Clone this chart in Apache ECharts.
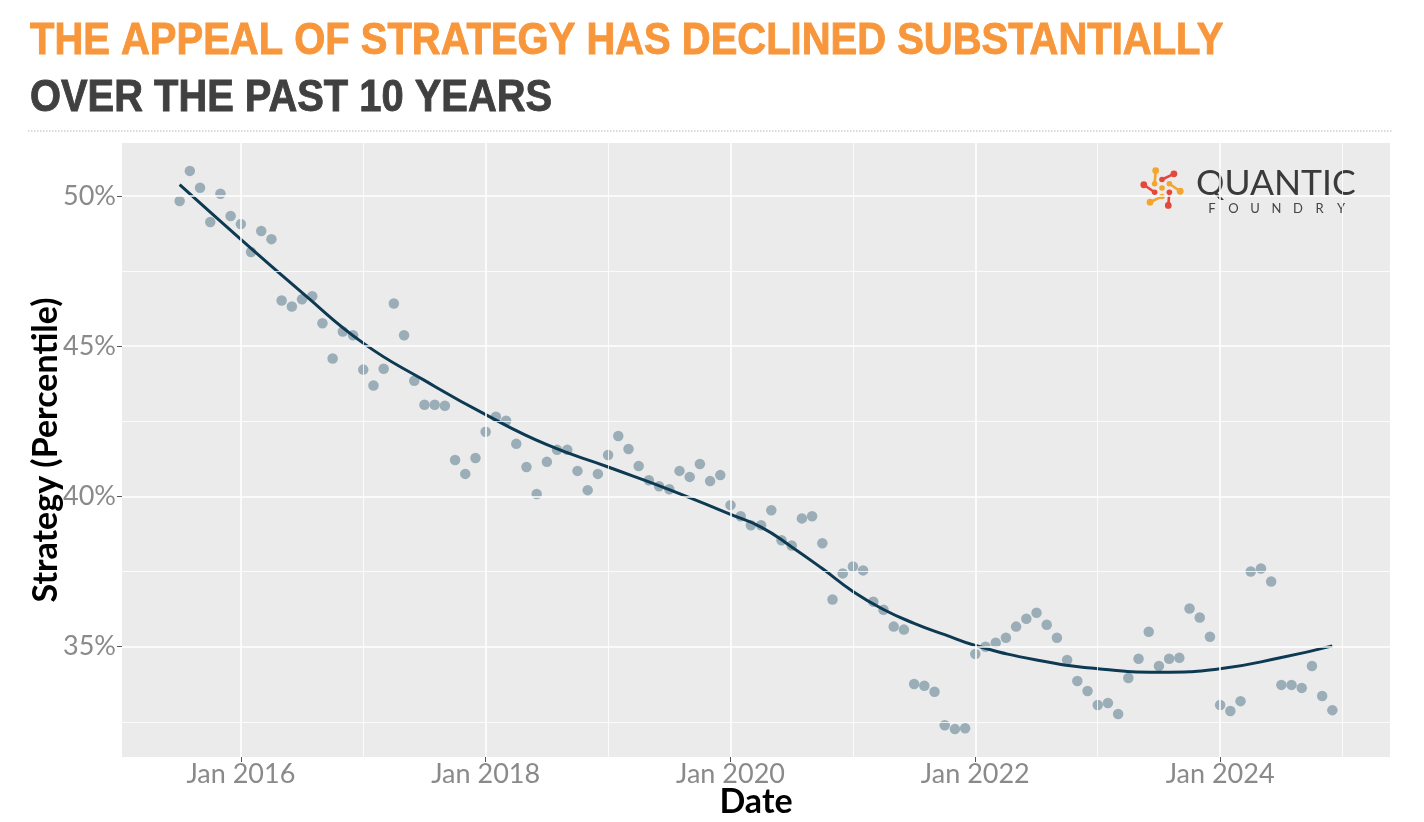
<!DOCTYPE html>
<html>
<head>
<meta charset="utf-8">
<script src="https://cdn.jsdelivr.net/npm/echarts@6/dist/echarts.min.js"></script>
<style>
html,body{margin:0;padding:0;background:#ffffff;}
#chart{width:1424px;height:822px;}
</style>
</head>
<body>
<div id="chart"></div>
<script>
// ---------------- data ----------------
const titleLine1 = 'THE APPEAL OF STRATEGY HAS DECLINED SUBSTANTIALLY';
const titleLine2 = 'OVER THE PAST 10 YEARS';
const xAxisTitle = 'Date';
const yAxisTitle = 'Strategy (Percentile)';

const months = [
  '2015-07','2015-08','2015-09','2015-10','2015-11','2015-12',
  '2016-01','2016-02','2016-03','2016-04','2016-05','2016-06','2016-07','2016-08','2016-09','2016-10','2016-11','2016-12',
  '2017-01','2017-02','2017-03','2017-04','2017-05','2017-06','2017-07','2017-08','2017-09','2017-10','2017-11','2017-12',
  '2018-01','2018-02','2018-03','2018-04','2018-05','2018-06','2018-07','2018-08','2018-09','2018-10','2018-11','2018-12',
  '2019-01','2019-02','2019-03','2019-04','2019-05','2019-06','2019-07','2019-08','2019-09','2019-10','2019-11','2019-12',
  '2020-01','2020-02','2020-03','2020-04','2020-05','2020-06','2020-07','2020-08','2020-09','2020-10','2020-11','2020-12',
  '2021-01','2021-02','2021-03','2021-04','2021-05','2021-06','2021-07','2021-08','2021-09','2021-10','2021-11','2021-12',
  '2022-01','2022-02','2022-03','2022-04','2022-05','2022-06','2022-07','2022-08','2022-09','2022-10','2022-11','2022-12',
  '2023-01','2023-02','2023-03','2023-04','2023-05','2023-06','2023-07','2023-08','2023-09','2023-10','2023-11','2023-12',
  '2024-01','2024-02','2024-03','2024-04','2024-05','2024-06','2024-07','2024-08','2024-09','2024-10','2024-11','2024-12'
];

const strategyValues = [
  49.83, 50.83, 50.27, 49.13, 50.07, 49.33,
  49.06, 48.13, 48.83, 48.56, 46.52, 46.32, 46.56, 46.66, 45.76, 44.59, 45.49, 45.36,
  44.22, 43.69, 44.25, 46.42, 45.36, 43.85, 43.05, 43.05, 43.02, 41.21, 40.75, 41.28,
  42.15, 42.65, 42.52, 41.75, 40.98, 40.08, 41.15, 41.55, 41.55, 40.85, 40.21, 40.75,
  41.38, 42.01, 41.58, 41.01, 40.54, 40.34, 40.24, 40.85, 40.65, 41.08, 40.51, 40.71,
  39.71, 39.34, 39.04, 39.04, 39.54, 38.54, 38.37, 39.27, 39.34, 38.44, 36.57, 37.44,
  37.67, 37.54, 36.50, 36.23, 35.67, 35.57, 33.76, 33.70, 33.50, 32.39, 32.26, 32.29,
  34.76, 35.00, 35.13, 35.30, 35.67, 35.93, 36.13, 35.73, 35.30, 34.56, 33.86, 33.53,
  33.06, 33.13, 32.76, 33.96, 34.60, 35.50, 34.36, 34.60, 34.63, 36.27, 35.97, 35.33,
  33.06, 32.86, 33.19, 37.50, 37.60, 37.17, 33.73, 33.73, 33.63, 34.36, 33.36, 32.89
];

// smooth trend line
const trendMonths = ['2015-07','2016-01','2016-07','2017-01','2017-07','2018-01','2018-07','2019-01','2019-07',
  '2020-01','2020-04','2020-07','2020-10','2021-01','2021-04','2021-07','2021-10','2022-01','2022-07',
  '2023-01','2023-07','2024-01','2024-07','2024-12'];
const trendValues = [50.37, 48.55, 46.78, 45.10, 43.86, 42.72, 41.72, 40.98, 40.23,
  39.40, 38.98, 38.32, 37.60, 36.84, 36.24, 35.78, 35.40, 35.04, 34.56,
  34.27, 34.15, 34.27, 34.64, 35.03];

const xTickYears = [2016, 2018, 2020, 2022, 2024];
const xMinorYears = [2017, 2019, 2021, 2023, 2025];
const yTicks = [35, 40, 45, 50];
const yMinorTicks = [32.5, 37.5, 42.5, 47.5];

// ---------------- helpers ----------------
function toYear(m) {
  const p = m.split('-').map(Number);
  return p[0] + (p[1] - 1) / 12;
}
const xs = months.map(toYear);
const xSpan = xs[xs.length - 1] - xs[0];
const xMin = xs[0] - 0.05 * xSpan;
const xMax = xs[xs.length - 1] + 0.05 * xSpan;
const yLo = Math.min.apply(null, strategyValues);
const yHi = Math.max.apply(null, strategyValues);
const ySpan = yHi - yLo;
const yMin = yLo - 0.05 * ySpan;
const yMax = yHi + 0.05 * ySpan;

const pointData = months.map((m, i) => [toYear(m), strategyValues[i]]);
const trendData = trendMonths.map((m, i) => [toYear(m), trendValues[i]]);

const gridLineData = []
  .concat(xTickYears.map(v => ({ xAxis: v, lineStyle: { color: '#ffffff', width: 1.6, type: 'solid' } })))
  .concat(xMinorYears.map(v => ({ xAxis: v, lineStyle: { color: '#ffffff', width: 0.8, type: 'solid' } })))
  .concat(yTicks.map(v => ({ yAxis: v, lineStyle: { color: '#ffffff', width: 1.6, type: 'solid' } })))
  .concat(yMinorTicks.map(v => ({ yAxis: v, lineStyle: { color: '#ffffff', width: 0.8, type: 'solid' } })));

const titleFont = "bold 44px 'Liberation Sans', Arial, sans-serif";
const axisFont = "Lato, 'Noto Sans', sans-serif";

// logo icon (decoration)
const logoCx = 1162, logoCy = 188;
const logoParts = [];
(function () {
  const cols = ['#E5483B', '#F5A42C'];
  for (let k = 0; k < 6; k++) {
    const a = k * Math.PI / 3 - Math.PI / 2;
    const b = a + 0.7;
    const col = cols[k % 2];
    const ix = logoCx + 8.5 * Math.cos(a), iy = logoCy + 8.5 * Math.sin(a);
    const ox = logoCx + 18.5 * Math.cos(b), oy = logoCy + 18.5 * Math.sin(b);
    logoParts.push({ type: 'line', shape: { x1: ix, y1: iy, x2: ox, y2: oy }, style: { stroke: col, lineWidth: 2.6 } });
    logoParts.push({ type: 'circle', shape: { cx: ox, cy: oy, r: 3.4 }, style: { fill: col } });
    logoParts.push({ type: 'circle', shape: { cx: ix, cy: iy, r: 2.8 }, style: { fill: col } });
  }
  logoParts.push({ type: 'circle', shape: { cx: logoCx, cy: logoCy, r: 2.8 }, style: { fill: '#F5A42C' } });
})();
const foundryLetters = 'FOUNDRY'.split('').map((ch, i) => ({
  type: 'text', x: 1212 + i * 21.5, y: 202,
  style: { text: ch, fill: '#444444', font: "normal 13px Lato, 'Noto Sans', sans-serif", textAlign: 'center', textVerticalAlign: 'top' }
}));

// ---------------- chart ----------------
const chart = echarts.init(document.getElementById('chart'), null, { renderer: 'canvas' });
chart.setOption({
  animation: false,
  backgroundColor: '#ffffff',
  grid: {
    left: 122, right: 34, top: 143, bottom: 65,
    show: true, backgroundColor: '#EBEBEB', borderWidth: 0,
    containLabel: false, outerBoundsMode: 'none'
  },
  xAxis: {
    type: 'value', min: xMin, max: xMax,
    axisLine: { show: false },
    splitLine: { show: false },
    axisTick: { show: true, customValues: xTickYears, length: 5, lineStyle: { color: '#555555', width: 1 } },
    axisLabel: { customValues: xTickYears, formatter: v => 'Jan ' + Math.round(v),
      color: '#8a8a8a', fontSize: 27, fontFamily: axisFont, margin: 4 },
    name: xAxisTitle, nameLocation: 'middle', nameGap: 28, nameMoveOverlap: false,
    nameTextStyle: { color: '#000000', fontSize: 34, fontWeight: 'bold', fontFamily: axisFont }
  },
  yAxis: {
    type: 'value', min: yMin, max: yMax,
    axisLine: { show: false },
    splitLine: { show: false },
    axisTick: { show: true, customValues: yTicks, length: 5, lineStyle: { color: '#555555', width: 1 } },
    axisLabel: { customValues: yTicks, formatter: v => Math.round(v) + '%',
      color: '#8a8a8a', fontSize: 27, fontFamily: axisFont, margin: 6 },
    name: yAxisTitle, nameLocation: 'middle', nameGap: 59, nameRotate: 90, nameMoveOverlap: false,
    nameTextStyle: { color: '#000000', fontSize: 34, fontWeight: 'bold', fontFamily: axisFont }
  },
  series: [
    {
      type: 'line', data: [], z: 1, silent: true,
      markLine: { silent: true, symbol: ['none', 'none'], label: { show: false }, animation: false, data: gridLineData }
    },
    {
      type: 'scatter', data: pointData, z: 3, symbolSize: 10.5,
      itemStyle: { color: '#9BAEB7', opacity: 1 }
    },
    {
      type: 'line', data: trendData, z: 4, smooth: 0.5, showSymbol: false,
      lineStyle: { color: '#0D3A52', width: 3 }
    }
  ],
  graphic: [
    { type: 'text', x: 30, y: 20, scaleX: 0.908, style: { text: titleLine1, fill: '#F7963A', stroke: '#F7963A', lineWidth: 0.9, font: titleFont, textAlign: 'left', textVerticalAlign: 'top' } },
    { type: 'text', x: 30, y: 77, scaleX: 0.906, style: { text: titleLine2, fill: '#404040', stroke: '#404040', lineWidth: 0.9, font: titleFont, textAlign: 'left', textVerticalAlign: 'top' } },
    { type: 'line', shape: { x1: 28, y1: 131, x2: 1393, y2: 131 }, style: { stroke: '#b5b5b5', lineWidth: 1.2, lineDash: [1.5, 1.5] } },
    { type: 'group', z: 10, children: logoParts.concat([
      { type: 'text', x: 1196, y: 166, style: { text: 'QUANTIC', fill: '#3a3a3a', font: "normal 35.5px Lato, 'Noto Sans', sans-serif", textAlign: 'left', textVerticalAlign: 'top' } }
    ]).concat(foundryLetters) }
  ]
});
</script>
</body>
</html>
